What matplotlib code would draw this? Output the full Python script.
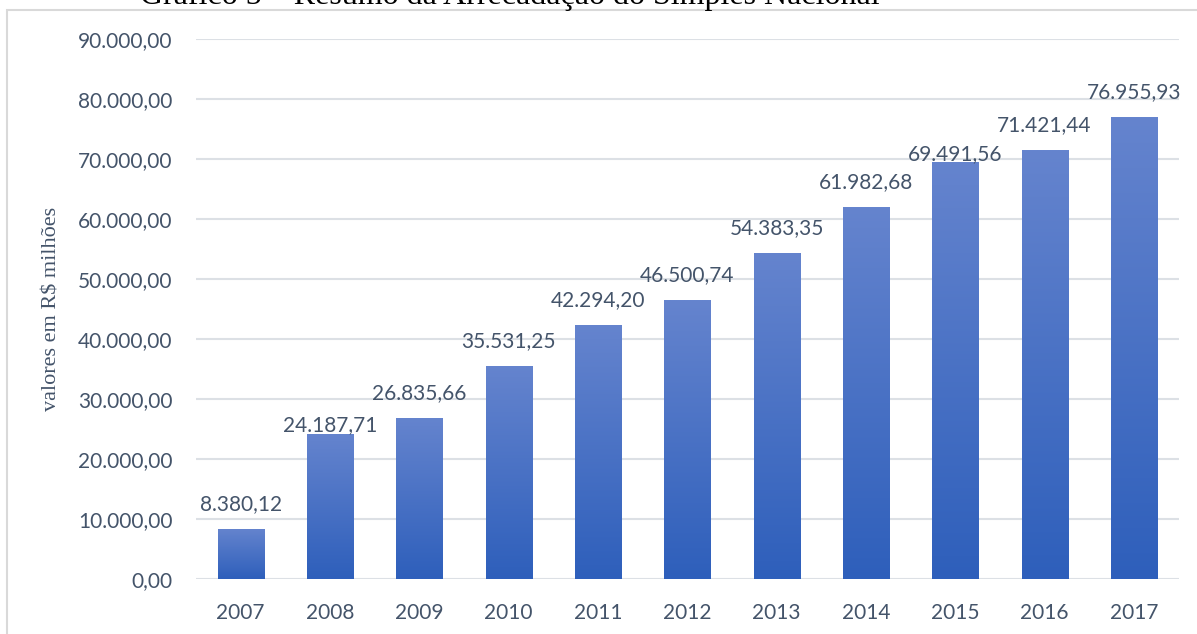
import numpy as np
import matplotlib.pyplot as plt
import matplotlib.colors as mcolors
from matplotlib.patches import Rectangle

years = ["2007", "2008", "2009", "2010", "2011", "2012", "2013", "2014", "2015", "2016", "2017"]
valores = [8380.12, 24187.71, 26835.66, 35531.25, 42294.20, 46500.74,
           54383.35, 61982.68, 69491.56, 71421.44, 76955.93]
yticks = [0, 10000, 20000, 30000, 40000, 50000, 60000, 70000, 80000, 90000]


def fmt_br(v):
    s = "{:,.2f}".format(v)
    return s.replace(",", "X").replace(".", ",").replace("X", ".")


def main():
    text_color = "#44546A"
    grid_color = "#DCE0E5"
    grad = mcolors.LinearSegmentedColormap.from_list("barra", ["#2E5FBB", "#6584CE"])

    fig = plt.figure(figsize=(11.97, 6.34), dpi=100)
    ax = fig.add_axes([0.1637, 0.0868, 0.8209, 0.8517])

    x = np.arange(len(years))
    bars = ax.bar(x, valores, width=0.515, color="none", edgecolor="none", zorder=3)

    # gradiente vertical em cada barra
    g = np.linspace(0, 1, 256).reshape(-1, 1)
    for b in bars:
        x0, y0 = b.get_x(), b.get_y()
        im = ax.imshow(g, cmap=grad, origin="lower", aspect="auto",
                       extent=[x0, x0 + b.get_width(), y0, y0 + b.get_height()], zorder=3)
        im.set_clip_path(b)

    # rotulos de dados (alguns ficaram sobrepostos no original)
    offsets = {1: 6, 8: 6}
    for i, v in enumerate(valores):
        ax.annotate(fmt_br(v), (x[i], v), xytext=(0, offsets.get(i, 18)),
                    textcoords="offset points", ha="center", va="center",
                    fontsize=15, family="Lato", color=text_color, zorder=4)

    ax.set_xlim(-0.5, len(years) - 0.5)
    ax.set_ylim(0, 90000)
    ax.set_xticks(x)
    ax.set_xticklabels(years)
    ax.set_yticks(yticks)
    ax.set_yticklabels([fmt_br(t) for t in yticks])
    ax.tick_params(length=0, labelsize=15, labelcolor=text_color)
    ax.tick_params(axis="x", pad=17)
    ax.tick_params(axis="y", pad=17)
    for lbl in ax.get_xticklabels() + ax.get_yticklabels():
        lbl.set_family("Lato")

    ax.grid(axis="y", color=grid_color, linewidth=1.5, zorder=0)
    ax.set_axisbelow(True)
    for s in ax.spines.values():
        s.set_visible(False)

    ax.set_ylabel("valores em R$ milhões", family="Liberation Serif", fontsize=16,
                  color="#44546A")
    ax.yaxis.set_label_coords(-0.137, 0.5)

    # moldura do grafico e titulo cortado
    fig.patches.append(Rectangle((7 / 1197, -0.1), 1.1, 1 - 10 / 634 + 0.1, transform=fig.transFigure,
                                 fill=False, edgecolor="#D9D9D9", linewidth=1.5))
    fig.text(0.426, 1 - 4 / 634, "Gráfico 5 – Resumo da Arrecadação do Simples Nacional",
             family="Liberation Serif", fontsize=23, ha="center", va="baseline", color="black")

    fig.savefig("out.png", dpi=100)


if __name__ == '__main__':
    main()
